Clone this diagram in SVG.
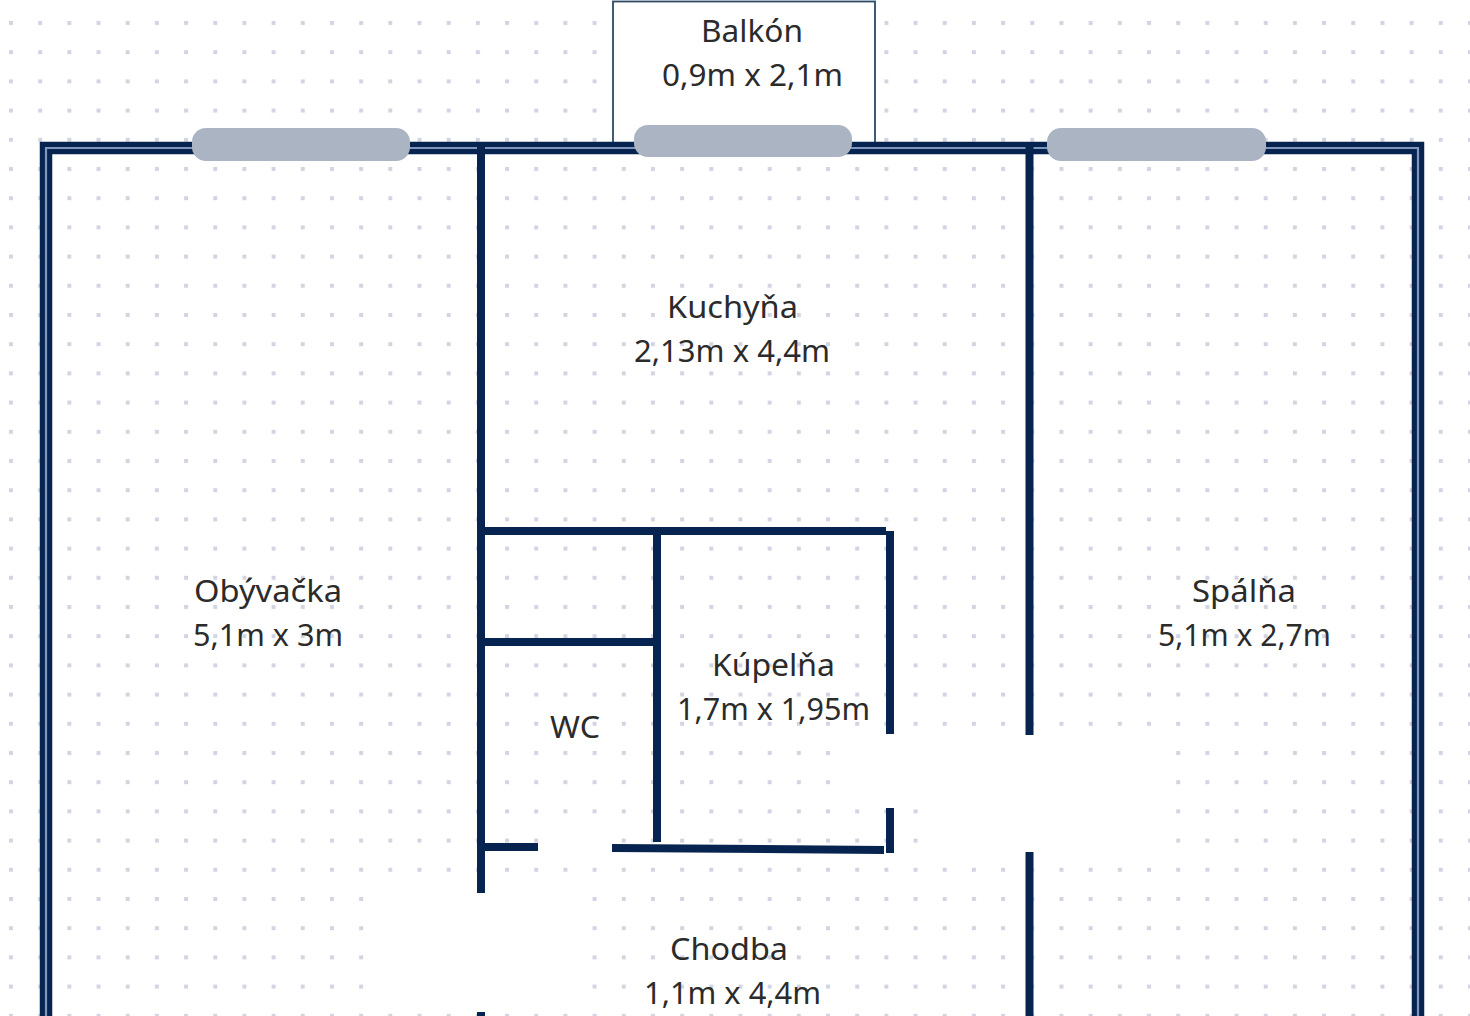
<svg xmlns="http://www.w3.org/2000/svg" width="1470" height="1016" viewBox="0 0 1470 1016">
  <style>
    .wall{fill:none;stroke:#06244f;stroke-width:8;stroke-linejoin:round}
    .win{fill:#abb4c3}
    .lbl{font-family:"Noto Sans","Liberation Sans",sans-serif;font-size:30.5px;fill:#2b2b2b;text-anchor:middle}
  </style>
  <defs>
    <pattern id="dots" patternUnits="userSpaceOnUse" x="9" y="21" width="29.18" height="29.2">
      <rect x="0" y="0" width="4" height="4" fill="#d2d5e1"/>
    </pattern>
  </defs>
  <rect width="1470" height="1016" fill="#ffffff"/>
  <rect width="1470" height="1016" fill="url(#dots)"/>
  <g id="gaps" fill="#ffffff">
    <rect x="372" y="880" width="213" height="120"/>
    <rect x="840" y="735" width="325" height="60"/>
    <rect x="925" y="735" width="240" height="117"/>
    <rect x="545" y="832" width="60" height="24"/>
  </g>
  <g id="balkon">
    <rect x="613" y="1.5" width="262" height="146" fill="#ffffff" stroke="#2c4a66" stroke-width="1.8"/>
    <text class="lbl" x="752" y="42" textLength="102" lengthAdjust="spacingAndGlyphs">Balkón</text>
    <text class="lbl" x="752.500" y="86" textLength="181" lengthAdjust="spacingAndGlyphs">0,9m x 2,1m</text>
  </g>
  <g id="outer-wall">
    <path d="M46 1030V148H1418V1030" fill="none" stroke="#06244f" stroke-width="12.5"/>
    <path d="M46 1030V148H1418V1030" fill="none" stroke="#7f97bd" stroke-width="2.2"/>
  </g>
  <g id="walls">
    <path class="wall" d="M481 144V893"/>
    <path class="wall" d="M481 1012V1016"/>
    <path class="wall" d="M481 531H886"/>
    <path class="wall" d="M890 531V734"/>
    <path class="wall" d="M890 808V853"/>
    <path class="wall" d="M657 531V842"/>
    <path class="wall" d="M485 642H655"/>
    <path class="wall" d="M481 847H538"/>
    <path class="wall" d="M612 848L884 850"/>
    <path class="wall" d="M1029.500 144V735"/>
    <path class="wall" d="M1029.500 852V1016"/>
  </g>
  <g id="windows">
    <rect id="window-left" class="win" x="192" y="128" width="218" height="33" rx="14"/>
    <rect id="window-middle" class="win" x="634" y="125" width="218" height="32" rx="14"/>
    <rect id="window-right" class="win" x="1047" y="128" width="219" height="33" rx="14"/>
  </g>
  <g id="kuchyna">
    <text class="lbl" x="732.500" y="318" textLength="131" lengthAdjust="spacingAndGlyphs">Kuchyňa</text>
    <text class="lbl" x="732" y="362" textLength="196" lengthAdjust="spacingAndGlyphs">2,13m x 4,4m</text>
  </g>
  <g id="obyvacka">
    <text class="lbl" x="268" y="602" textLength="148" lengthAdjust="spacingAndGlyphs">Obývačka</text>
    <text class="lbl" x="268" y="646" textLength="150" lengthAdjust="spacingAndGlyphs">5,1m x 3m</text>
  </g>
  <g id="spalna">
    <text class="lbl" x="1244" y="602" textLength="104" lengthAdjust="spacingAndGlyphs">Spálňa</text>
    <text class="lbl" x="1244.500" y="646" textLength="173" lengthAdjust="spacingAndGlyphs">5,1m x 2,7m</text>
  </g>
  <g id="kupelna">
    <text class="lbl" x="773.500" y="676" textLength="123" lengthAdjust="spacingAndGlyphs">Kúpelňa</text>
    <text class="lbl" x="773.500" y="720" textLength="193" lengthAdjust="spacingAndGlyphs">1,7m x 1,95m</text>
  </g>
  <g id="wc">
    <text class="lbl" x="575" y="738" textLength="50" lengthAdjust="spacingAndGlyphs">WC</text>
  </g>
  <g id="chodba">
    <text class="lbl" x="729" y="960" textLength="118" lengthAdjust="spacingAndGlyphs">Chodba</text>
    <text class="lbl" x="732.500" y="1004" textLength="177" lengthAdjust="spacingAndGlyphs">1,1m x 4,4m</text>
  </g>
</svg>
